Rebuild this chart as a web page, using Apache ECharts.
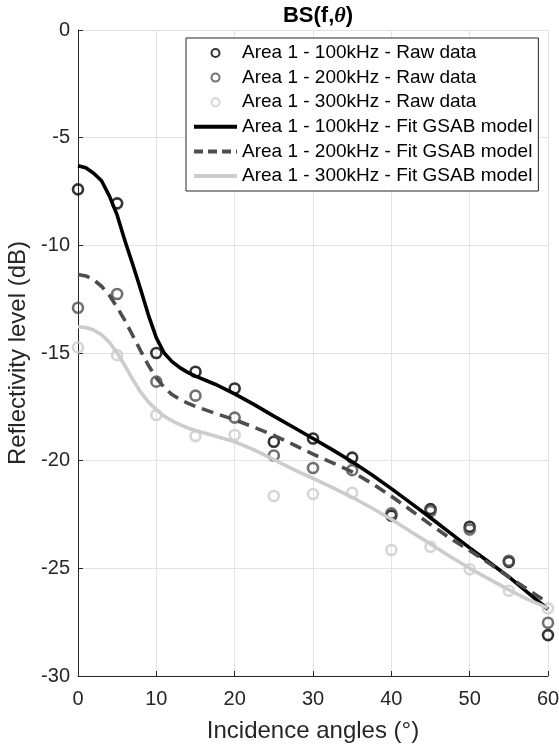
<!DOCTYPE html>
<html><head><meta charset="utf-8">
<script src="https://cdn.jsdelivr.net/npm/echarts@6/dist/echarts.min.js"></script>
<style>html,body{margin:0;padding:0;background:#fff}#c{width:559px;height:748px}</style>
</head><body><div id="c"></div>
<script>
const rawAngles = [0,5,10,15,20,25,30,35,40,45,50,55,60];
const raw100 = [-7.4,-8.05,-15.0,-15.87,-16.65,-19.12,-18.97,-19.86,-22.55,-22.25,-23.07,-24.7,-28.1];
const raw200 = [-12.9,-12.26,-16.33,-16.98,-18.0,-19.76,-20.34,-20.44,-22.45,-22.35,-23.2,-24.65,-27.53];
const raw300 = [-14.74,-15.1,-17.88,-18.86,-18.81,-21.64,-21.55,-21.49,-24.15,-24.0,-25.04,-26.04,-26.86];
const fitAngles = [0,1,2,3,4,5,6,7,8,9,10,11,12,13,14,15,17.5,20,22.5,25,27.5,30,32.5,35,37.5,40,42.5,45,47.5,50,52.5,55,57.5,60];
const fit100 = [-6.3,-6.4,-6.65,-7.0,-7.7,-8.6,-9.8,-10.9,-12.05,-13.25,-14.3,-15.0,-15.4,-15.68,-15.9,-16.07,-16.45,-16.9,-17.4,-17.93,-18.45,-18.97,-19.5,-20.05,-20.65,-21.3,-21.97,-22.65,-23.35,-24.05,-24.72,-25.4,-26.15,-26.9];
const fit200 = [-11.35,-11.42,-11.6,-11.9,-12.32,-12.88,-13.5,-14.2,-14.9,-15.58,-16.15,-16.6,-16.93,-17.15,-17.33,-17.48,-17.8,-18.1,-18.45,-18.82,-19.25,-19.7,-20.1,-20.52,-21.05,-21.65,-22.3,-22.97,-23.6,-24.17,-24.77,-25.4,-26.0,-26.6];
const fit300 = [-13.78,-13.82,-13.93,-14.15,-14.5,-15.0,-15.6,-16.23,-16.82,-17.28,-17.63,-17.93,-18.15,-18.33,-18.48,-18.6,-18.85,-19.12,-19.5,-19.95,-20.4,-20.82,-21.25,-21.7,-22.2,-22.72,-23.3,-23.87,-24.45,-25.0,-25.5,-26.0,-26.45,-26.85];
const names = ['Area 1 - 100kHz - Raw data','Area 1 - 200kHz - Raw data','Area 1 - 300kHz - Raw data',
  'Area 1 - 100kHz - Fit GSAB model','Area 1 - 200kHz - Fit GSAB model','Area 1 - 300kHz - Fit GSAB model'];
const colors = ['#000000','#4d4d4d','#cccccc'];
const xLabel = 'Incidence angles (°)';
const yLabel = 'Reflectivity level (dB)';

const zip = (xs, ys) => xs.map((x, i) => [x, ys[i]]);
const FONT = '"Liberation Sans", Arial, Helvetica, sans-serif';
const DASH = [12, 7];
const chart = echarts.init(document.getElementById('c'), null, {renderer: 'canvas'});

function rawSeries(name, ys, col) {
  return {name, type: 'scatter', data: zip(rawAngles, ys), symbol: 'circle', symbolSize: 10,
    itemStyle: {color: 'rgba(255,255,255,0)', borderColor: col, borderWidth: 2.6}, clip: false, z: 2};
}
function fitSeries(name, ys, col, dash) {
  return {name, type: 'line', data: zip(fitAngles, ys), showSymbol: false, symbol: 'none', smooth: false,
    lineStyle: {color: col, width: 3.6, type: dash ? DASH : 'solid'}, itemStyle: {color: col}, z: 3};
}

chart.setOption({
  animation: false,
  backgroundColor: '#fff',
  textStyle: {fontFamily: FONT},
  title: {text: '{b|BS(f,}{i|θ}{b|)}', left: 313, top: 0, textAlign: 'center',
    textStyle: {rich: {b: {fontFamily: FONT, fontWeight: 'bold', fontSize: 22, color: '#000'},
      i: {fontFamily: '"Liberation Serif", "DejaVu Serif", serif', fontStyle: 'italic', fontWeight: 'bold', fontSize: 22, color: '#000'}}}},
  grid: {left: 78, right: 11, top: 30, bottom: 72, containLabel: false, outerBoundsMode: 'none'},
  legend: {orient: 'vertical', left: 186, top: 38,
    data: names.map((n, i) => i < 3 ? {name: n}
      : {name: n, itemStyle: {opacity: 0}, lineStyle: {width: 4, color: colors[i - 3], type: i === 4 ? [9, 5] : 'solid'}}),
    itemWidth: 43, itemHeight: 8, itemGap: 2.6,
    padding: [4, 6, 4, 6], backgroundColor: '#fff', borderColor: '#262626', borderWidth: 1,
    textStyle: {fontFamily: FONT, fontSize: 19, color: '#000', lineHeight: 22}},
  xAxis: {type: 'value', min: 0, max: 60, interval: 10, name: xLabel, nameLocation: 'middle', nameGap: 43,
    nameTextStyle: {fontFamily: FONT, fontSize: 24, color: '#262626'},
    axisLine: {onZero: false, lineStyle: {color: '#262626', width: 1}},
    axisTick: {inside: true, length: 5, lineStyle: {color: '#262626'}},
    axisLabel: {fontFamily: FONT, fontSize: 20, color: '#262626', margin: 13},
    splitLine: {show: true, lineStyle: {color: '#e3e3e3', width: 1}}},
  yAxis: {type: 'value', min: -30, max: 0, interval: 5, name: yLabel, nameLocation: 'middle', nameGap: 46,
    nameTextStyle: {fontFamily: FONT, fontSize: 24, color: '#262626'},
    axisLine: {show: true, onZero: false, lineStyle: {color: '#262626', width: 1}},
    axisTick: {show: true, inside: true, length: 5, lineStyle: {color: '#262626'}},
    axisLabel: {fontFamily: FONT, fontSize: 20, color: '#262626', margin: 8},
    splitLine: {show: true, lineStyle: {color: '#e3e3e3', width: 1}}},
  series: [
    rawSeries(names[0], raw100, colors[0]),
    rawSeries(names[1], raw200, colors[1]),
    rawSeries(names[2], raw300, colors[2]),
    fitSeries(names[3], fit100, colors[0], false),
    fitSeries(names[4], fit200, colors[1], true),
    fitSeries(names[5], fit300, colors[2], false)
  ]
});
</script></body></html>
